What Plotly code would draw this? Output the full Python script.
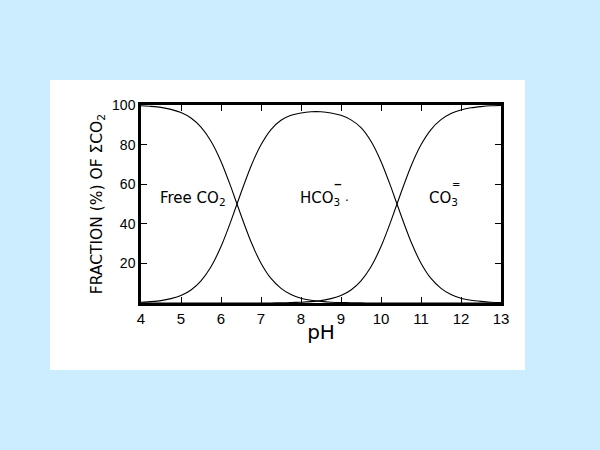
import plotly.graph_objects as go

ph = [4.0, 4.25, 4.5, 4.75, 5.0, 5.25, 5.5, 5.75, 6.0, 6.25, 6.5, 6.75, 7.0, 7.25, 7.5, 7.75,
      8.0, 8.25, 8.5, 8.75, 9.0, 9.25, 9.5, 9.75, 10.0, 10.25, 10.5, 10.75, 11.0, 11.25, 11.5,
      11.75, 12.0, 12.25, 12.5, 12.75, 13.0]
free_co2 = [99.6, 99.3, 98.8, 97.8, 96.2, 93.4, 88.8, 81.7, 71.5, 58.5, 44.3, 30.9, 20.1, 12.4, 7.4, 4.3,
            2.4, 1.4, 0.8, 0.4, 0.25, 0.1, 0.05, 0, 0, 0, 0, 0, 0, 0, 0,
            0, 0, 0, 0, 0, 0]
hco3 = [0.4, 0.7, 1.2, 2.2, 3.8, 6.6, 11.2, 18.3, 28.5, 41.5, 55.7, 69.1, 79.9, 87.6, 92.3, 94.8,
        96.0, 96.6, 96.6, 96.0, 94.8, 92.5, 88.6, 81.7, 71.5, 58.5, 44.3, 30.9, 20.1, 12.4, 7.4,
        4.3, 2.4, 1.4, 0.8, 0.4, 0.25]
co3 = [0, 0, 0, 0, 0, 0, 0, 0, 0, 0, 0, 0, 0, 0, 0.1, 0.2,
       0.4, 0.7, 1.2, 2.2, 3.8, 6.6, 11.2, 18.3, 28.5, 41.5, 55.7, 69.1, 79.9, 87.6, 92.6,
       95.7, 97.5, 98.6, 99.2, 99.6, 99.75]

x_ticks = [4, 5, 6, 7, 8, 9, 10, 11, 12, 13]
y_ticks = [20, 40, 60, 80, 100]

FONT = "DejaVu Sans"
TICKFONT = "Liberation Sans"
fig = go.Figure()
for name, vals in [("Free CO2", free_co2), ("HCO3-", hco3), ("CO3=", co3)]:
    fig.add_trace(go.Scatter(x=ph, y=vals, mode="lines", name=name,
                             line=dict(color="black", width=1.1, shape="spline", smoothing=0.6),
                             showlegend=False, hoverinfo="skip"))

# white panel
fig.add_shape(type="rect", xref="paper", yref="paper", x0=-0.2528, x1=1.0667, y0=-0.3384, y1=1.1263,
              fillcolor="white", line=dict(width=0), layer="below")

TF = dict(family=FONT, size=15, color="black")
fig.add_annotation(x=4.425, y=53, text="Free CO<sub>2</sub>", showarrow=False, xanchor="left", font=TF)
fig.add_annotation(x=7.92, y=53, text="HCO<sub>3</sub>", showarrow=False, xanchor="left", font=TF)
fig.add_annotation(x=8.93, y=60, text="<b>‒</b>", showarrow=False, xanchor="center",
                   font=dict(family=FONT, size=11, color="black"))
fig.add_annotation(x=9.14, y=51.5, text="·", showarrow=False, xanchor="center",
                   font=dict(family=FONT, size=12, color="black"))
fig.add_annotation(x=11.15, y=53, text="CO<sub>3</sub>", showarrow=False, xanchor="left", font=TF)
fig.add_annotation(x=11.87, y=60, text="=", showarrow=False, xanchor="center",
                   font=dict(family=FONT, size=10, color="black"))

fig.update_layout(
    width=600, height=450,
    paper_bgcolor="#CCECFF", plot_bgcolor="white",
    margin=dict(l=141, r=99, t=105, b=147),
    font=dict(family=FONT, color="black"),
)
fig.update_xaxes(range=[4, 13], tickvals=x_ticks, ticktext=[str(v) for v in x_ticks],
                 ticks="inside", ticklen=6, tickwidth=1.2, tickcolor="black",
                 showline=True, linecolor="black", linewidth=2.5, mirror="ticks",
                 showgrid=False, zeroline=False, tickfont=dict(size=15, family=TICKFONT),
                 title=dict(text="pH", font=dict(size=20, family=FONT), standoff=0))
fig.update_yaxes(range=[0, 100], tickvals=y_ticks, ticktext=[str(v) for v in y_ticks],
                 ticks="inside", ticklen=6, tickwidth=1.2, tickcolor="black",
                 showline=True, linecolor="black", linewidth=2.5, mirror="ticks",
                 showgrid=False, zeroline=False, tickfont=dict(size=14, family=TICKFONT),
                 title=dict(text="FRACTION (%) OF ΣCO<sub>2</sub>", font=dict(size=15.5, family=FONT), standoff=6))

fig.write_html("out.html", config={"displayModeBar": False},
               post_script="document.body.style.margin='0';document.body.style.background='#CCECFF';")
